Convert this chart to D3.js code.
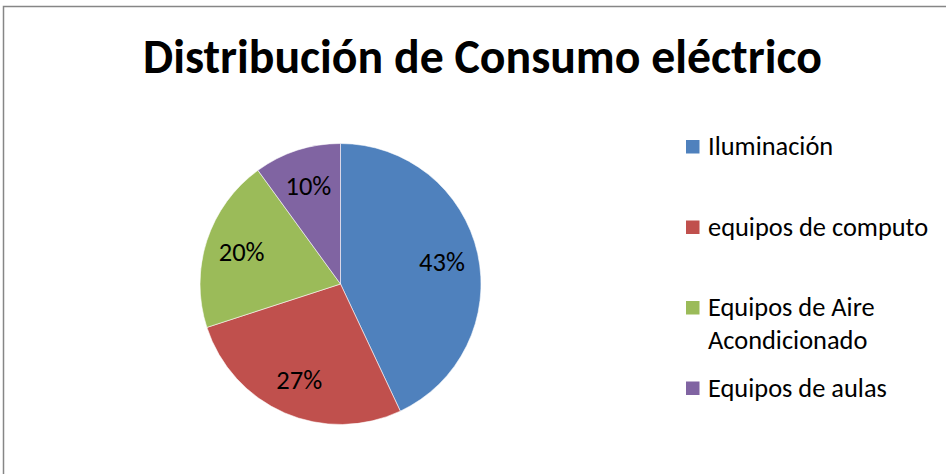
<!DOCTYPE html>
<html>
<head>
<meta charset="utf-8">
<script src="https://cdn.jsdelivr.net/npm/d3@7"></script>
<style>
  html, body { margin: 0; padding: 0; background: #fff; }
  svg { display: block; }
  text { font-family: Carlito, Lato, "Open Sans", sans-serif; fill: #000; }
</style>
</head>
<body>
<svg id="chart" width="946" height="474"></svg>
<script>
// Consumption share by equipment type (percent)
const categories = ["Iluminación", "equipos de computo", "Equipos de Aire Acondicionado", "Equipos de aulas"];
const legendLines = [["Iluminación"], ["equipos de computo"], ["Equipos de Aire", "Acondicionado"], ["Equipos de aulas"]];
const values = [43, 27, 20, 10];
const colors = ["#4F81BD", "#C0504D", "#9BBB59", "#8064A2"];
const title = "Distribución de Consumo eléctrico";

const W = 946, H = 474;
const svg = d3.select("#chart");

// outer frame (open to the right and bottom edges)
svg.append("rect")
  .attr("x", 3.5).attr("y", 6.5)
  .attr("width", W + 20).attr("height", H + 20)
  .attr("fill", "#fff")
  .attr("stroke", "#868686")
  .attr("stroke-width", 1.5);

// title, sized to a target width
const titleText = svg.append("text")
  .attr("x", 482.5).attr("y", 73)
  .attr("text-anchor", "middle")
  .attr("font-weight", "bold")
  .attr("font-size", 48)
  .text(title);
const tw = titleText.node().getComputedTextLength();
titleText.attr("font-size", 48 * 679 / tw);

// pie
const cx = 340.5, cy = 284, R = 140.5;
const pie = d3.pie().sort(null).value(d => d);
const arcs = pie(values);
const arc = d3.arc().innerRadius(0).outerRadius(R);
const labelArc = d3.arc().innerRadius(R * 0.74).outerRadius(R * 0.74);
const color = d3.scaleOrdinal().domain(d3.range(values.length)).range(colors);

const g = svg.append("g").attr("transform", `translate(${cx},${cy})`);
g.selectAll("path.slice")
  .data(arcs)
  .join("path")
  .attr("class", "slice")
  .attr("d", arc)
  .attr("fill", (d, i) => color(i))
  .attr("stroke", "#ffffff")
  .attr("stroke-opacity", 0.7)
  .attr("stroke-width", 0.8);

g.selectAll("text.pct")
  .data(arcs)
  .join("text")
  .attr("class", "pct")
  .attr("transform", d => `translate(${labelArc.centroid(d)})`)
  .attr("text-anchor", "middle")
  .attr("dy", "0.36em")
  .attr("font-size", 26.5)
  .text(d => d3.format(".0%")(d.data / 100));

// legend
const rowY = d3.scaleLinear().domain([0, categories.length - 1]).range([140, 381.5]);
const legend = svg.append("g");
const items = legend.selectAll("g.item")
  .data(categories)
  .join("g")
  .attr("class", "item")
  .attr("transform", (d, i) => `translate(686,${rowY(i)})`);
items.append("rect")
  .attr("width", 13.5).attr("height", 13.5)
  .attr("fill", (d, i) => color(i));
items.append("text")
  .attr("x", 22)
  .attr("y", 15)
  .attr("font-size", 26.4)
  .selectAll("tspan")
  .data((d, i) => legendLines[i])
  .join("tspan")
  .attr("x", 22)
  .attr("dy", (d, j) => j === 0 ? 0 : 33)
  .text(d => d);
</script>
</body>
</html>
